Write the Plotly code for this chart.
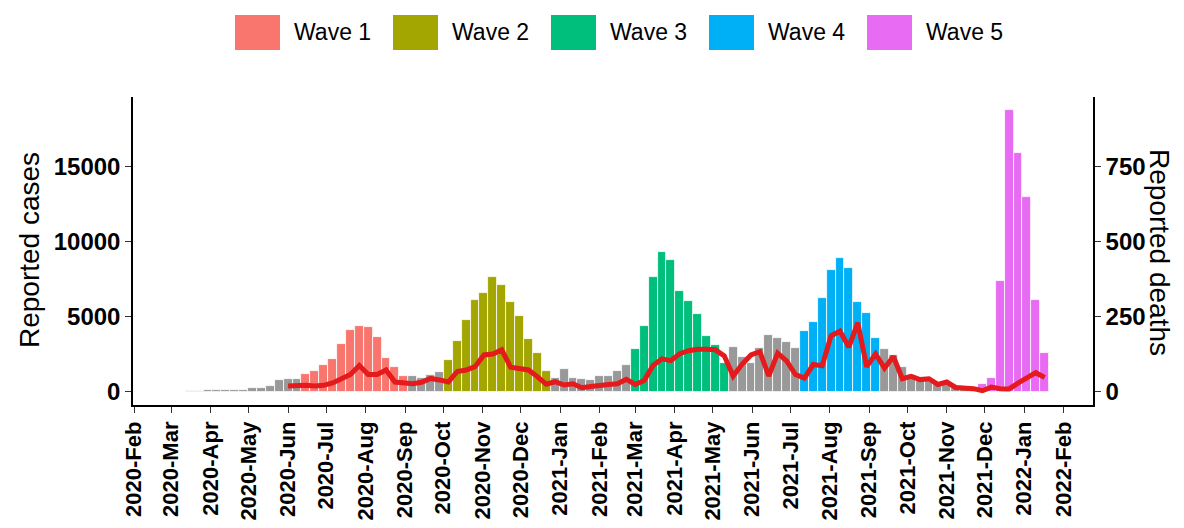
import pandas as pd
import plotly.graph_objects as go

# ---------------- data ----------------
week_start = "2020-03-02"          # first weekly bar (weeks start on Monday)
cases = [
    5, 20, 50, 90, 140, 130, 130, 150, 160, 230,
    240, 390, 790, 860, 870, 1200, 1360, 1820, 2200, 3220,
    4150, 4400, 4310, 3620, 2240, 1690, 1090, 1070, 910, 1150,
    1320, 2110, 3380, 4800, 6130, 6580, 7640, 7110, 5960, 5070,
    3510, 2580, 1420, 910, 1510, 930, 840, 800, 1070, 1070,
    1360, 1760, 2840, 4360, 7640, 9330, 8800, 6730, 6040, 5160,
    3690, 3150, 1930, 3010, 2290, 1910, 2900, 3800, 3580, 3300,
    2900, 4020, 4680, 6250, 8130, 8870, 8240, 5960, 5220, 3570,
    2840, 2440, 1690, 1130, 910, 800, 620, 580, 420, 360,
    240, 510, 930, 7360, 18760, 15870, 12980, 6090, 2600,
]

deaths_start = "2020-06-01"
deaths = [
    20, 22, 22, 20, 22, 30, 45, 58, 88, 58,
    58, 73, 33, 28, 27, 32, 45, 40, 33, 68,
    73, 84, 123, 126, 140, 82, 79, 73, 51, 26,
    34, 23, 27, 14, 18, 23, 25, 27, 42, 25,
    38, 88, 110, 104, 127, 137, 142, 142, 140, 120,
    53, 92, 123, 134, 53, 129, 103, 58, 46, 91,
    87, 187, 202, 149, 230, 84, 126, 79, 118, 44,
    52, 41, 44, 25, 33, 15, 14, 11, 4, 16,
    11, 10, 29, 49, 64, 48,
]

wave_names = ["Wave 1", "Wave 2", "Wave 3", "Wave 4", "Wave 5"]
wave_first = ["2020-06-15", "2020-10-05", "2021-03-01", "2021-07-12", "2021-11-29"]
wave_last = ["2020-08-31", "2020-12-21", "2021-05-10", "2021-09-06", "2022-01-17"]
wave_colors = ["#F8766D", "#A3A500", "#00BF7D", "#00B0F6", "#E76BF3"]
other_color = "#999999"
line_color = "#E41A1C"

case_ticks = [0, 5000, 10000, 15000]
death_ticks = [0, 250, 500, 750]
case_range = [-867, 19600]
death_factor = 20

# ---------------- build ----------------
df = pd.DataFrame({
    "week": pd.date_range(week_start, periods=len(cases), freq="7D"),
    "cases": cases,
})
df["wave"] = "Other"
for name, a, b in zip(wave_names, wave_first, wave_last):
    df.loc[(df["week"] >= a) & (df["week"] <= b), "wave"] = name

dd = pd.DataFrame({
    "week": pd.date_range(deaths_start, periods=len(deaths), freq="7D"),
    "deaths": deaths,
})

OFF = 8                      # page body margin
W, H = 1184 - OFF, 528 - OFF
# panel edges in page pixels: left 133, right 1093, top 97, bottom 405
L = 133 - OFF
T = 97 - OFF
R = W - (1093 - OFF)
B = H - (405 - OFF)
pw, ph = W - L - R, H - T - B

def px(x):
    return (x - OFF - L) / pw

def py(y):
    return (H - B - (y - OFF)) / ph

week_ms = 7 * 24 * 3600 * 1000
FONT = "Liberation Sans, Arial, sans-serif"

fig = go.Figure()
groups = [("Other", other_color)] + list(zip(wave_names, wave_colors))
for name, col in groups:
    sub = df[df["wave"] == name]
    fig.add_trace(go.Bar(
        x=sub["week"], y=sub["cases"], width=week_ms, name=name,
        marker=dict(color=col, line=dict(color="white", width=0.8)),
        showlegend=False,
    ))

fig.add_trace(go.Scatter(
    x=dd["week"], y=dd["deaths"], yaxis="y2", mode="lines",
    line=dict(color=line_color, width=5), showlegend=False, name="Deaths",
))

axis_common = dict(
    showline=True, linecolor="black", linewidth=1.5,
    ticks="outside", ticklen=6, tickwidth=1.3, tickcolor="#333333",
    showgrid=False, zeroline=False,
)

fig.update_layout(
    width=W, height=H,
    margin=dict(l=L, r=R, t=T, b=B, autoexpand=False),
    paper_bgcolor="white", plot_bgcolor="white",
    barmode="overlay", bargap=0,
    font=dict(family=FONT, color="black"),
    xaxis=dict(
        type="date", range=["2020-01-31", "2022-02-24"],
        tick0="2020-02-01", dtick="M1", tickformat="%Y-%b", tickangle=-90,
        tickfont=dict(family=FONT, size=22, color="black", weight="bold"),
        **axis_common,
    ),
    yaxis=dict(
        range=case_range, tickvals=case_ticks, ticktext=[str(v) for v in case_ticks],
        tickfont=dict(family=FONT, size=24, color="black", weight="bold"),
        **axis_common,
    ),
    yaxis2=dict(
        overlaying="y", side="right",
        range=[case_range[0] / death_factor, case_range[1] / death_factor],
        tickvals=death_ticks, ticktext=[str(v) for v in death_ticks],
        tickfont=dict(family=FONT, size=24, color="black", weight="bold"),
        **axis_common,
    ),
)

annotations = [
    dict(text="Reported cases", xref="paper", yref="paper", x=px(29), y=py(250),
         textangle=-90, showarrow=False, font=dict(family=FONT, size=28, color="black"),
         xanchor="center", yanchor="middle"),
    dict(text="Reported deaths", xref="paper", yref="paper", x=px(1160), y=py(252),
         textangle=90, showarrow=False, font=dict(family=FONT, size=28, color="black"),
         xanchor="center", yanchor="middle"),
]

# custom legend (top, horizontal)
shapes = []
key_w, key_h = 45, 35
x0 = 235
step = 158
for i, (name, col) in enumerate(zip(wave_names, wave_colors)):
    kx = x0 + i * step
    shapes.append(dict(type="rect", xref="paper", yref="paper",
                       x0=px(kx), x1=px(kx + key_w), y0=py(15 + key_h), y1=py(15),
                       fillcolor=col, line=dict(width=0)))
    annotations.append(dict(text=name, xref="paper", yref="paper",
                            x=px(kx + key_w + 12), y=py(15 + key_h / 2),
                            xanchor="left", yanchor="middle", showarrow=False,
                            font=dict(family=FONT, size=23, color="black")))

fig.update_layout(annotations=annotations, shapes=shapes)

fig.write_html("out.html")
